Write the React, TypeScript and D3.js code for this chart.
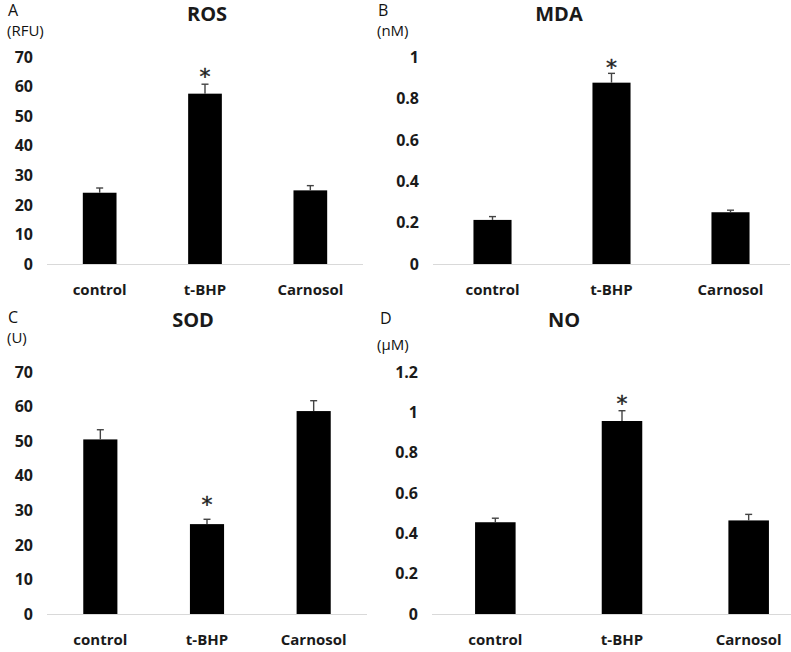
import React, { useEffect, useRef } from "react";
import * as d3 from "d3";

const categories = ["control", "t-BHP", "Carnosol"];

const rosMean = [24.1, 57.6, 24.9];
const rosErr = [1.6, 3.2, 1.6];
const rosTicks = [0, 10, 20, 30, 40, 50, 60, 70];

const mdaMean = [0.213, 0.876, 0.25];
const mdaErr = [0.016, 0.045, 0.01];
const mdaTicks = [0, 0.2, 0.4, 0.6, 0.8, 1];

const sodMean = [50.5, 26.0, 58.7];
const sodErr = [2.8, 1.4, 3.0];
const sodTicks = [0, 10, 20, 30, 40, 50, 60, 70];

const noMean = [0.455, 0.957, 0.464];
const noErr = [0.02, 0.051, 0.03];
const noTicks = [0, 0.2, 0.4, 0.6, 0.8, 1, 1.2];

const panelNames = ["A", "B", "C", "D"];
const titles = ["ROS", "MDA", "SOD", "NO"];
const units = ["(RFU)", "(nM)", "(U)", "(μM)"];
const starred = "t-BHP";

// layout for each panel (pixels)
const layout = [
  { x: [47, 363], y: [264, 57], title: [207, 21], letter: [8, 16], unit: [7, 36], tickRight: 33, starGap: 0 },
  { x: [433, 790], y: [264, 57], title: [559, 21], letter: [378, 16], unit: [377, 36], tickRight: 419, starGap: -2 },
  { x: [47, 367], y: [614, 372], title: [193, 327], letter: [8, 323], unit: [7, 343], tickRight: 33, starGap: 7 },
  { x: [432, 812], y: [614, 372], title: [564, 327], letter: [380, 324], unit: [377, 350], tickRight: 418, starGap: 0 },
];

const FONT = "'Open Sans', 'DejaVu Sans', sans-serif";

export default function App() {
  const ref = useRef<SVGSVGElement>(null);

  useEffect(() => {
    document.body.style.margin = "0";
    const svg = d3.select(ref.current);
    svg.selectAll("*").remove();

    const panels = [
      { mean: rosMean, err: rosErr, ticks: rosTicks },
      { mean: mdaMean, err: mdaErr, ticks: mdaTicks },
      { mean: sodMean, err: sodErr, ticks: sodTicks },
      { mean: noMean, err: noErr, ticks: noTicks },
    ];

    panels.forEach((p, i) => {
      const L = layout[i];
      const g = svg.append("g");
      const rows = categories.map((c, k) => ({ cat: c, mean: p.mean[k], err: p.err[k] }));

      const x = d3
        .scaleBand()
        .domain(categories)
        .range(L.x as [number, number])
        .paddingInner(0.68)
        .paddingOuter(0.34);

      const y = d3
        .scaleLinear()
        .domain([0, p.ticks[p.ticks.length - 1]])
        .range(L.y as [number, number]);

      // tick labels
      g.selectAll("text.tick")
        .data(p.ticks)
        .enter()
        .append("text")
        .attr("class", "tick")
        .attr("x", L.tickRight)
        .attr("y", (d) => y(d))
        .attr("dy", "0.36em")
        .attr("text-anchor", "end")
        .attr("font-family", FONT)
        .attr("font-weight", 700)
        .attr("font-size", 16)
        .attr("fill", "#1a1a1a")
        .text((d) => String(d));

      // baseline
      g.append("line")
        .attr("x1", L.x[0])
        .attr("x2", L.x[1])
        .attr("y1", y(0) + 0.5)
        .attr("y2", y(0) + 0.5)
        .attr("stroke", "#d9d9d9")
        .attr("stroke-width", 1);

      // bars
      g.selectAll("rect")
        .data(rows)
        .enter()
        .append("rect")
        .attr("x", (d) => x(d.cat)!)
        .attr("y", (d) => y(d.mean))
        .attr("width", x.bandwidth())
        .attr("height", (d) => y(0) - y(d.mean))
        .attr("fill", "#000");

      // error bars (upper only)
      const eb = g.selectAll("g.err").data(rows).enter().append("g").attr("class", "err");
      eb.append("line")
        .attr("x1", (d) => x(d.cat)! + x.bandwidth() / 2)
        .attr("x2", (d) => x(d.cat)! + x.bandwidth() / 2)
        .attr("y1", (d) => y(d.mean))
        .attr("y2", (d) => y(d.mean + d.err))
        .attr("stroke", "#444")
        .attr("stroke-width", 1.4);
      eb.append("line")
        .attr("x1", (d) => x(d.cat)! + x.bandwidth() / 2 - 3.5)
        .attr("x2", (d) => x(d.cat)! + x.bandwidth() / 2 + 3.5)
        .attr("y1", (d) => y(d.mean + d.err))
        .attr("y2", (d) => y(d.mean + d.err))
        .attr("stroke", "#444")
        .attr("stroke-width", 1.4);

      // significance star
      const s = rows.find((d) => d.cat === starred)!;
      g.append("text")
        .attr("x", x(s.cat)! + x.bandwidth() / 2)
        .attr("y", y(s.mean + s.err) - L.starGap)
        .attr("text-anchor", "middle")
        .attr("font-family", "'DejaVu Sans', sans-serif")
        .attr("font-size", 22)
        .attr("fill", "#222")
        .attr("stroke", "#222")
        .attr("stroke-width", 0.4)
        .text("*");

      // category labels
      g.selectAll("text.cat")
        .data(categories)
        .enter()
        .append("text")
        .attr("class", "cat")
        .attr("x", (d) => x(d)! + x.bandwidth() / 2)
        .attr("y", y(0) + 31)
        .attr("text-anchor", "middle")
        .attr("font-family", FONT)
        .attr("font-weight", 700)
        .attr("font-size", 15)
        .attr("fill", "#1a1a1a")
        .text((d) => d);

      // title, panel letter, unit
      g.append("text")
        .attr("x", L.title[0])
        .attr("y", L.title[1])
        .attr("text-anchor", "middle")
        .attr("font-family", FONT)
        .attr("font-weight", 700)
        .attr("font-size", 20)
        .attr("fill", "#1a1a1a")
        .text(titles[i]);
      g.append("text")
        .attr("x", L.letter[0])
        .attr("y", L.letter[1])
        .attr("font-family", FONT)
        .attr("font-size", 16)
        .attr("fill", "#111")
        .text(panelNames[i]);
      g.append("text")
        .attr("x", L.unit[0])
        .attr("y", L.unit[1])
        .attr("font-family", FONT)
        .attr("font-size", 15)
        .attr("fill", "#111")
        .text(units[i]);
    });
  }, []);

  return (
    <svg
      ref={ref}
      width={791}
      height={652}
      style={{ display: "block", background: "#fff" }}
    />
  );
}
